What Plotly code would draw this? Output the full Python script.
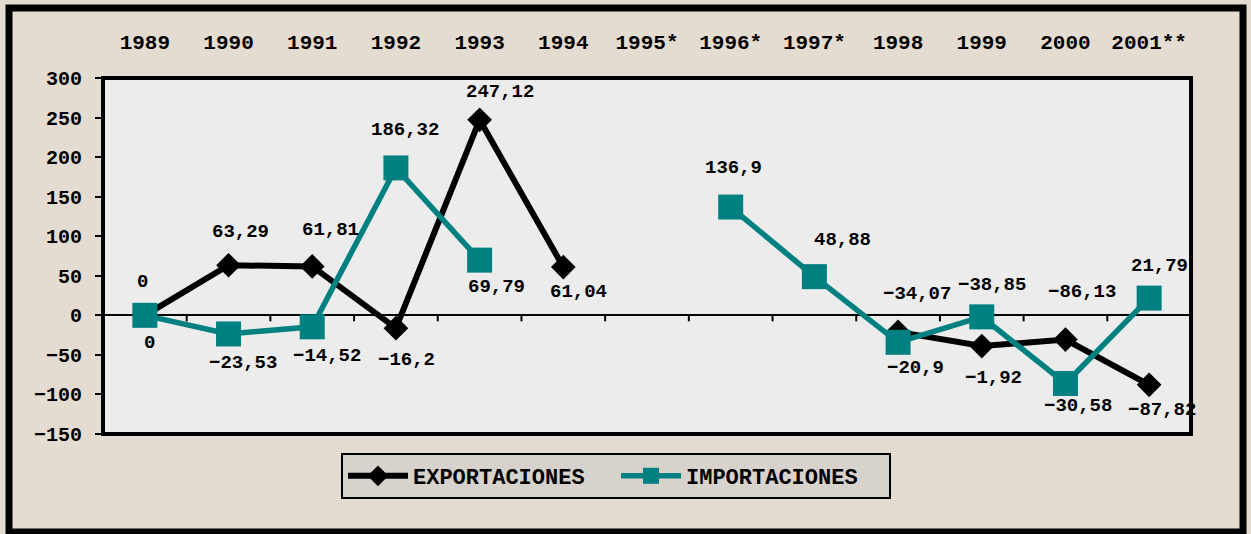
import plotly.graph_objects as go

years = ["1989", "1990", "1991", "1992", "1993", "1994", "1995*", "1996*", "1997*",
         "1998", "1999", "2000", "2001**"]
exportaciones = [0, 63.29, 61.81, -16.2, 247.12, 61.04, None, None, None,
                 -20.9, -38.85, -30.58, -87.82]
importaciones = [0, -23.53, -14.52, 186.32, 69.79, None, None, 136.9, 48.88,
                 -34.07, -1.92, -86.13, 21.79]
y_ticks = [-150, -100, -50, 0, 50, 100, 150, 200, 250, 300]

# label offsets in pixels (dx, dy-down) per point
exp_off = [(-2, -33), (12, -33), (18, -36), (11, 32), (20, -28), (15, 25), None, None, None,
           (17, 36), (10, -61), (13, 66), (13, 25)]
imp_off = [(5, 28), (14, 29), (15, 29), (9, -38), (17, 27), None, None, (3, -39), (28, -37),
           (19, -48), (12, 61), (17, -91), (10, -32)]

FONT = "Liberation Mono, Courier New, monospace"
TEAL = "#008080"
W, H = 1251, 534
L, R, T, B = 103, 60, 78, 100
PW, PH = W - L - R, H - T - B


def fmt(v):
    s = f"{v:g}".replace(".", ",")
    return s.replace("-", "\u2212")


fig = go.Figure()
fig.add_trace(go.Scatter(
    x=years, y=exportaciones, mode="lines+markers", name="EXPORTACIONES",
    line=dict(color="black", width=6),
    marker=dict(symbol="diamond", size=19, color="black"),
    connectgaps=False))
fig.add_trace(go.Scatter(
    x=years, y=importaciones, mode="lines+markers", name="IMPORTACIONES",
    line=dict(color=TEAL, width=5.5),
    marker=dict(symbol="square", size=25, color=TEAL),
    connectgaps=False))

annotations = []
for series, offs in ((exportaciones, exp_off), (importaciones, imp_off)):
    for i, (v, o) in enumerate(zip(series, offs)):
        if v is None or o is None:
            continue
        annotations.append(dict(
            x=i, y=v, xref="x", yref="y", text=fmt(v), showarrow=False,
            xshift=o[0], yshift=-o[1],
            font=dict(family=FONT, size=19, color="black", weight="bold")))

shapes = []
# small tick marks on zero line between categories
for i in range(len(years) - 1):
    shapes.append(dict(type="line", xref="x", yref="y", x0=i + 0.5, x1=i + 0.5,
                       ysizemode="pixel", yanchor=0, y0=0, y1=-6,
                       line=dict(color="black", width=2)))
# plot border
shapes.append(dict(type="rect", xref="paper", yref="paper", x0=0, x1=1, y0=0, y1=1,
                   line=dict(color="black", width=4), layer="above"))
# outer frame
ox0, ox1, oy0, oy1 = 9, 1243, 8, 532
shapes.append(dict(type="rect", xref="paper", yref="paper",
                   x0=(ox0 - L) / PW, x1=(ox1 - L) / PW,
                   y0=(H - B - oy1) / PH, y1=(H - B - oy0) / PH,
                   line=dict(color="black", width=7), layer="above"))

fig.update_layout(
    width=W, height=H,
    margin=dict(l=L, r=R, t=T, b=B, pad=0),
    paper_bgcolor="#e4dbd1",
    plot_bgcolor="#ececec",
    font=dict(family=FONT, size=19, color="black", weight="bold"),
    showlegend=True,
    legend=dict(orientation="h", x=(616 - L) / PW, xanchor="center",
                y=(H - B - 453) / PH, yanchor="top",
                bgcolor="#d8d2cc", bordercolor="black", borderwidth=2,
                font=dict(family=FONT, size=22, color="black", weight="bold"),
                itemwidth=60, entrywidth=198, entrywidthmode="pixels",
                tracegroupgap=0),
    annotations=annotations,
    shapes=shapes,
)
fig.update_xaxes(type="category", side="top", range=[-0.5, len(years) - 0.5],
                 showgrid=False, showline=False, ticks="", ticklabelstandoff=24,
                 tickfont=dict(family=FONT, size=21, color="black", weight="bold"),
                 fixedrange=True)
fig.update_yaxes(range=[-150, 300], tickvals=y_ticks, showgrid=False,
                 zeroline=True, zerolinecolor="black", zerolinewidth=2,
                 ticks="outside", ticklen=7, tickwidth=2, tickcolor="black",
                 ticklabelstandoff=9,
                 tickfont=dict(family=FONT, size=20, color="black", weight="bold"),
                 showline=False, fixedrange=True)

fig.write_html("out.html", config={"displayModeBar": False},
               post_script="document.body.style.margin='0';document.body.style.overflow='hidden';")
